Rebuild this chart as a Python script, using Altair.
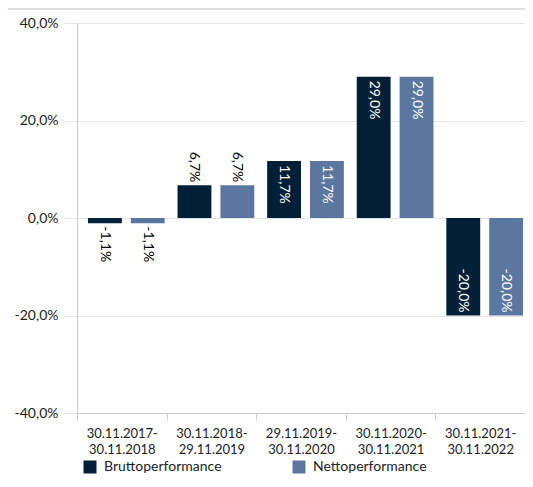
import altair as alt
import pandas as pd

categories = ["30.11.2017-30.11.2018", "30.11.2018-29.11.2019", "29.11.2019-30.11.2020",
              "30.11.2020-30.11.2021", "30.11.2021-30.11.2022"]
series = ["Bruttoperformance", "Nettoperformance"]
brutto = [-1.1, 6.7, 11.7, 29.0, -20.0]
netto = [-1.1, 6.7, 11.7, 29.0, -20.0]
colors = ["#021f38", "#5b77a0"]
y_ticks = [-40, -20, 0, 20, 40]

rows = []
for c, b, n in zip(categories, brutto, netto):
    rows.append({"period": c, "series": series[0], "value": b})
    rows.append({"period": c, "series": series[1], "value": n})
df = pd.DataFrame(rows)

FONT = "Lato"
FMT_LABEL = "(datum.value < 0 ? '-' : '') + replace(format(abs(datum.value), '.1f'), '.', ',') + '%'"

x_enc = alt.X("period:N", sort=categories, title=None,
              scale=alt.Scale(paddingInner=0, paddingOuter=0),
              axis=alt.Axis(labelAngle=0, labelFontSize=13, labelColor="#222",
                            labelPadding=7, labelLineHeight=16, tickBand="extent",
                            tickSize=7, tickColor="#cccccc", domainColor="#cccccc",
                            labelExpr="[slice(datum.label,0,11), slice(datum.label,11)]",
                            grid=False))
xo_enc = alt.XOffset("series:N", sort=series,
                     scale=alt.Scale(paddingInner=0.21, paddingOuter=0.15, align=0.85))
y_scale = alt.Scale(domain=[-40, 40], nice=False, zero=False)

base = alt.Chart(df).transform_calculate(label=FMT_LABEL)

bars = base.mark_bar().encode(
    x=x_enc,
    xOffset=xo_enc,
    y=alt.Y("value:Q", scale=y_scale, title=None,
            axis=alt.Axis(values=y_ticks, labelFontSize=14, labelColor="#222",
                          labelPadding=6, tickSize=13, tickColor="#e6e6e6",
                          gridColor="#e6e6e6", domainColor="#cccccc",
                          labelExpr=FMT_LABEL)),
    y2=alt.datum(0),
    color=alt.Color("series:N", sort=series,
                    scale=alt.Scale(domain=series, range=colors),
                    legend=alt.Legend(title=None, orient="none", legendX=6, legendY=437,
                                      direction="horizontal", symbolType="square",
                                      symbolSize=169, symbolStrokeWidth=0,
                                      labelFontSize=14, labelColor="#222",
                                      labelOffset=7, columnPadding=70,
                                      labelFont=FONT)),
)

def lab(filt, align, dx, color):
    return base.transform_filter(filt).mark_text(
        angle=90, align=align, baseline="middle", dx=dx, fontSize=14, color=color, font=FONT
    ).encode(
        x=alt.X("period:N", sort=categories),
        xOffset=alt.XOffset("series:N", sort=series),
        y=alt.Y("value:Q", scale=y_scale),
        text="label:N",
    )

labels = [
    lab("datum.value >= 10", "left", 4, "white"),
    lab("datum.value >= 0 && datum.value < 10", "right", -3, "black"),
    lab("datum.value < 0 && datum.value > -10", "left", 3, "black"),
    lab("datum.value <= -10", "right", -3, "white"),
]

band = alt.Chart(pd.DataFrame({"a": [0]})).mark_rect(color="#dadfe2").encode(
    x=alt.value(-69), x2=alt.value(460), y=alt.value(-15), y2=alt.value(-13)
)

chart = alt.layer(band, bars, *labels).properties(
    width=448, height=390,
    padding={"left": 69, "top": 15, "right": 0, "bottom": 64},
    autosize=alt.AutoSizeParams(type="none"),
).configure_view(stroke=None).configure(font=FONT)

chart.save("out.html", embed_options={"renderer": "svg", "actions": False})
